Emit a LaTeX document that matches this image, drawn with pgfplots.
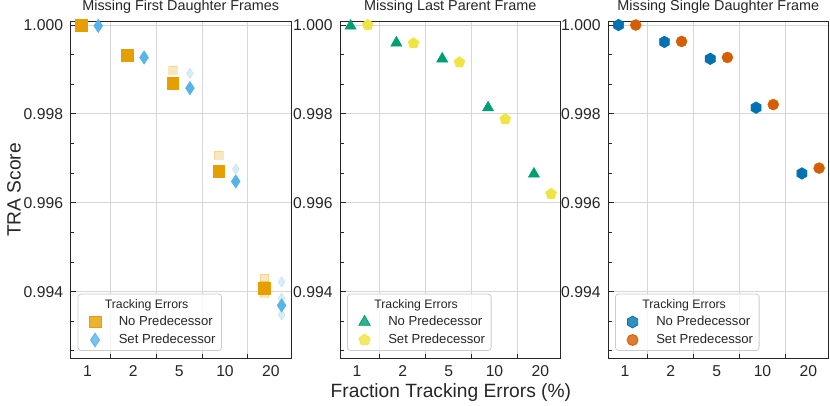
\documentclass[border=0pt]{standalone}
\usepackage{fontspec}
\setmainfont{Liberation Sans}
\usepackage{pgfplots}
\pgfplotsset{compat=1.18}
\usetikzlibrary{plotmarks}

\definecolor{cOrange}{HTML}{E69F00}
\definecolor{cSky}{HTML}{56B4E9}
\definecolor{cGreen}{HTML}{009E73}
\definecolor{cYellow}{HTML}{F0E442}
\definecolor{cBlue}{HTML}{0072B2}
\definecolor{cVerm}{HTML}{D55E00}
\definecolor{txt}{HTML}{262626}

\pgfdeclareplotmark{hexagon*}{%
  \pgfpathmoveto{\pgfqpoint{0pt}{\pgfplotmarksize}}%
  \pgfpathlineto{\pgfqpoint{0.8660\pgfplotmarksize}{0.5\pgfplotmarksize}}%
  \pgfpathlineto{\pgfqpoint{0.8660\pgfplotmarksize}{-0.5\pgfplotmarksize}}%
  \pgfpathlineto{\pgfqpoint{0pt}{-\pgfplotmarksize}}%
  \pgfpathlineto{\pgfqpoint{-0.8660\pgfplotmarksize}{-0.5\pgfplotmarksize}}%
  \pgfpathlineto{\pgfqpoint{-0.8660\pgfplotmarksize}{0.5\pgfplotmarksize}}%
  \pgfpathclose
  \pgfusepathqfillstroke}

\pgfplotsset{
  mkleg/.style={legend image code/.code={\path (0pt,0pt) (26pt,0pt);\draw[##1] plot coordinates {(12.7pt,0pt)};}},
  panel/.style={
    scale only axis, width=220.5pt, height=336.6pt,
    xmin=-0.37, xmax=4.44, ymin=0.9925, ymax=1.000075,
    xtick={0,1,2,3,4}, xticklabels={1,2,5,10,20},
    minor xtick={0.5,1.5,2.5,3.5},
    ytick={0.994,0.996,0.998,1.000},
    minor ytick={0.992667,0.993333,0.994667,0.995333,0.996667,0.997333,0.998667,0.999333},
    scaled y ticks=false,
    /pgf/number format/assume math mode=true,
    ymajorgrids=true, xminorgrids=true, xmajorgrids=false,
    major grid style={black!16, line width=0.9pt},
    minor grid style={black!16, line width=0.9pt},
    tick pos=left, tick align=inside,
    major tick length=6pt, minor tick length=4pt,
    tick style={black!85, line width=0.9pt},
    major x tick style={draw=none},
    axis line style={black!85, line width=1pt},
    tick label style={font=\fontsize{15.7}{18}\selectfont, text=txt},
    xticklabel style={anchor=base, yshift=-18.4pt},
    yticklabel style={anchor=east, inner xsep=0pt, xshift=-7.3pt,
      /pgf/number format/fixed, /pgf/number format/fixed zerofill, /pgf/number format/precision=3},
    title style={font=\fontsize{14.4}{17}\selectfont, text=txt, at={(0.5,1)}, anchor=base, yshift=5pt},
    legend cell align=left,
    legend style={at={(0.032,0.022)}, anchor=south west, draw=black!20, rounded corners=3pt,
      fill=white, fill opacity=0.8, text opacity=1, line width=0.8pt,
      inner xsep=4pt, inner ysep=3pt, row sep=3pt, column sep=8pt,
      font=\fontsize{13.1}{15}\selectfont, text=txt},
  }
}
\newcommand{\legtitle}{\hspace{-14pt}\fontsize{12.3}{14}\selectfont Tracking Errors}

\begin{document}
\begin{tikzpicture}
\useasboundingbox (0pt,-47.7pt) rectangle (830pt,358.3pt);

% ---------------- Panel 1 ----------------
\begin{axis}[panel, at={(70.5pt,0pt)}, anchor=south west,
  title={Missing First Daughter Frames},
  ylabel={TRA Score},
  every axis y label/.style={at={(axis description cs:-0.256,0.5)}, rotate=90, anchor=center,
    font=\fontsize{19.2}{22}\selectfont, text=txt}]
\addlegendimage{empty legend}
\addlegendentry{\legtitle}
% faint individual runs
\addplot[forget plot, only marks, mark=square*, mark size=4.2pt, color=cOrange, opacity=0.25]
  coordinates {(1.86,0.99899) (2.86,0.99707) (3.86,0.99430) (3.86,0.99415) (3.86,0.99397)};
\addplot[forget plot, only marks, mark=diamond*, mark size=5.3pt, color=cSky, opacity=0.25, mark options={xscale=0.88}]
  coordinates {(2.235,0.99891) (3.235,0.99676) (4.235,0.99422) (4.235,0.99385) (4.235,0.99348)};
% means
\addplot[only marks, mark=square*, mark size=5.85pt, color=cOrange, mkleg]
  coordinates {(-0.14,1.00000) (0.86,0.99932) (1.86,0.99869) (2.86,0.99671) (3.86,0.99408)};
\addlegendentry{No Predecessor}
\addplot[only marks, mark=diamond*, mark size=6.8pt, color=cSky, mark options={xscale=0.88}, mkleg]
  coordinates {(0.235,0.99998) (1.235,0.99927) (2.235,0.99858) (3.235,0.99648) (4.235,0.99369)};
\addlegendentry{Set Predecessor}
\end{axis}

% ---------------- Panel 2 ----------------
\begin{axis}[panel, at={(340pt,0pt)}, anchor=south west,
  title={Missing Last Parent Frame},
  xlabel={Fraction Tracking Errors (\%)},
  every axis x label/.style={at={(axis description cs:0.503,-0.115)}, anchor=base,
    font=\fontsize{19.2}{22}\selectfont, text=txt}]
\addlegendimage{empty legend}
\addlegendentry{\legtitle}
\addplot[only marks, mark=triangle*, mark size=6.5pt, color=cGreen, mkleg]
  coordinates {(-0.14,0.99998) (0.86,0.99960) (1.86,0.99924) (2.86,0.99814) (3.86,0.99665)};
\addlegendentry{No Predecessor}
\addplot[only marks, mark=pentagon*, mark size=5.8pt, color=cYellow, mkleg]
  coordinates {(0.235,1.00000) (1.235,0.99959) (2.235,0.99916) (3.235,0.99788) (4.235,0.99620)};
\addlegendentry{Set Predecessor}
\end{axis}

% ---------------- Panel 3 ----------------
\begin{axis}[panel, at={(608pt,0pt)}, anchor=south west,
  title={Missing Single Daughter Frame}]
\addlegendimage{empty legend}
\addlegendentry{\legtitle}
\addplot[only marks, mark=hexagon*, mark size=5.9pt, color=cBlue, mkleg]
  coordinates {(-0.14,1.00000) (0.86,0.99962) (1.86,0.99924) (2.86,0.99814) (3.86,0.99666)};
\addlegendentry{No Predecessor}
\addplot[only marks, mark=*, mark size=5.5pt, color=cVerm, mkleg]
  coordinates {(0.235,1.00000) (1.235,0.99963) (2.235,0.99927) (3.235,0.99821) (4.235,0.99678)};
\addlegendentry{Set Predecessor}
\end{axis}
\end{tikzpicture}
\end{document}
